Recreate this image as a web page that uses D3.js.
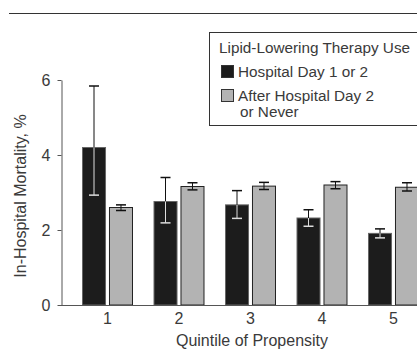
<!DOCTYPE html>
<html>
<head>
<meta charset="utf-8">
<script src="https://cdn.jsdelivr.net/npm/d3@7"></script>
<style>
  body { margin: 0; background: #fff; }
  text { font-family: "Liberation Sans", Arial, sans-serif; fill: #3a3a3a; }
</style>
</head>
<body>
<div></div>
<script>
const width = 417;
const height = 364;

// data
const quintiles = ["1", "2", "3", "4", "5"];
const groups = ["early", "late"];
const groupLabels = ["Hospital Day 1 or 2", "After Hospital Day 2", "or Never"];
const earlyValues = [4.2, 2.76, 2.67, 2.32, 1.91];
const earlyLow = [2.93, 2.19, 2.31, 2.1, 1.79];
const earlyHigh = [5.84, 3.4, 3.05, 2.54, 2.03];
const lateValues = [2.6, 3.16, 3.17, 3.2, 3.14];
const lateLow = [2.52, 3.07, 3.08, 3.1, 3.04];
const lateHigh = [2.67, 3.26, 3.27, 3.29, 3.26];
const yTicks = [0, 2, 4, 6];

const fills = { early: "#1c1c1c", late: "#b3b3b3" };
const strokes = { early: "#666", late: "#222" };
const fontSize = "16px";
const legendFont = "15.3px";

const svg = d3
  .select("div")
  .append("svg")
  .attr("width", width)
  .attr("height", height);

const x0 = d3
  .scaleBand()
  .domain(quintiles)
  .range([71.75, 429.25])
  .paddingInner(0.287)
  .paddingOuter(0.1435);

const x1 = d3
  .scaleBand()
  .domain(groups)
  .range([0, x0.bandwidth()])
  .paddingInner(0.11);

const y = d3.scaleLinear().domain([0, 6]).range([305, 80]);

// rows: one per bar
const rows = [];
quintiles.forEach((q, i) => {
  rows.push({ q, g: "early", v: earlyValues[i], lo: earlyLow[i], hi: earlyHigh[i] });
  rows.push({ q, g: "late", v: lateValues[i], lo: lateLow[i], hi: lateHigh[i] });
});

// top rule
svg.append("line")
  .attr("x1", 9).attr("x2", width)
  .attr("y1", 13.5).attr("y2", 13.5)
  .attr("stroke", "#333");

// bars
const bar = svg.append("g")
  .selectAll("g")
  .data(rows)
  .enter()
  .append("g")
  .attr("transform", (d) => "translate(" + (x0(d.q) + x1(d.g)) + ",0)");

bar.append("rect")
  .attr("x", 0.5)
  .attr("y", (d) => y(d.v))
  .attr("width", x1.bandwidth() - 1)
  .attr("height", (d) => y(0) - y(d.v))
  .attr("fill", (d) => fills[d.g])
  .attr("stroke", (d) => strokes[d.g]);

// error bars: part above the bar top is black, part inside the bar light
const cx = x1.bandwidth() / 2;
bar.append("line")
  .attr("x1", cx).attr("x2", cx)
  .attr("y1", (d) => y(d.hi)).attr("y2", (d) => y(d.v))
  .attr("stroke", "#111");
bar.append("line")
  .attr("x1", cx).attr("x2", cx)
  .attr("y1", (d) => y(d.v)).attr("y2", (d) => y(d.lo))
  .attr("stroke", (d) => (d.g === "early" ? "#ddd" : "#111"));
bar.append("line")
  .attr("x1", cx - 5).attr("x2", cx + 5)
  .attr("y1", (d) => y(d.hi)).attr("y2", (d) => y(d.hi))
  .attr("stroke", (d) => (d.hi > d.v ? "#111" : "#ddd"))
  .attr("stroke-width", 1.5);
bar.append("line")
  .attr("x1", cx - 5).attr("x2", cx + 5)
  .attr("y1", (d) => y(d.lo)).attr("y2", (d) => y(d.lo))
  .attr("stroke", (d) => (d.g === "early" ? "#ddd" : "#111"))
  .attr("stroke-width", 1.5);

// y axis
const yAxis = d3.axisLeft(y)
  .tickValues(yTicks)
  .tickFormat(d3.format("d"))
  .tickSize(4)
  .tickSizeOuter(0);
const gy = svg.append("g")
  .attr("transform", "translate(61.5,0)")
  .call(yAxis);
gy.select(".domain").attr("stroke", "#555");
gy.selectAll(".tick line").attr("stroke", "#555");
gy.selectAll(".tick text")
  .attr("x", -11)
  .style("font-size", fontSize)
  .attr("fill", null);

// x axis: baseline and labels
svg.append("line")
  .attr("x1", 61).attr("x2", width)
  .attr("y1", 305.5).attr("y2", 305.5)
  .attr("stroke", "#555");

svg.append("g")
  .selectAll("text")
  .data(quintiles)
  .enter()
  .append("text")
  .attr("x", (d) => x0(d) + x0.bandwidth() / 2)
  .attr("y", 324)
  .attr("text-anchor", "middle")
  .style("font-size", fontSize)
  .text((d) => d);

svg.append("text")
  .attr("x", 252)
  .attr("y", 346)
  .attr("text-anchor", "middle")
  .style("font-size", fontSize)
  .text("Quintile of Propensity");

svg.append("text")
  .attr("transform", "translate(26,196) rotate(-90)")
  .attr("text-anchor", "middle")
  .style("font-size", fontSize)
  .text("In-Hospital Mortality, %");

// legend
const legend = svg.append("g").attr("id", "legend");
legend.append("rect")
  .attr("x", 209.5).attr("y", 32.5)
  .attr("width", 220).attr("height", 93)
  .attr("fill", "#fff")
  .attr("stroke", "#333");
legend.append("text")
  .attr("x", 219).attr("y", 53)
  .style("font-size", legendFont)
  .text("Lipid-Lowering Therapy Use");
legend.selectAll("rect.key")
  .data(groups)
  .enter()
  .append("rect")
  .attr("class", "key")
  .attr("x", 221.5)
  .attr("y", (d, i) => 65.5 + i * 24)
  .attr("width", 12)
  .attr("height", 12)
  .attr("fill", (d) => fills[d])
  .attr("stroke", "#333");
legend.selectAll("text.lab")
  .data(groupLabels)
  .enter()
  .append("text")
  .attr("class", "lab")
  .attr("x", (d, i) => (i === 2 ? 240 : 238))
  .attr("y", (d, i) => [77, 101, 117][i])
  .style("font-size", legendFont)
  .text((d) => d);
</script>
</body>
</html>
